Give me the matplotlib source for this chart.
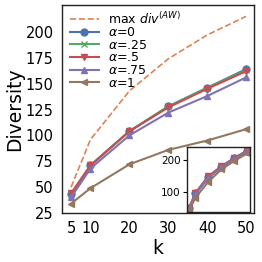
import numpy as np
import matplotlib
matplotlib.use('Agg')
import matplotlib.pyplot as plt

k = [5, 10, 20, 30, 40, 50]

max_div = [50, 96, 143, 174, 197, 215]
div_a0 = [43, 71, 104, 128, 146, 164]
div_a25 = [43, 71, 104, 128, 146, 163]
div_a5 = [44, 71, 104, 127, 145, 162]
div_a75 = [40, 68, 100, 122, 138, 156]
div_a1 = [34, 49, 72, 86, 95, 106]

# inset (second dataset)
ins_a0 = [48, 95, 147, 178, 205, 228]
ins_a25 = [48, 95, 147, 178, 205, 228]
ins_a5 = [50, 97, 149, 180, 206, 229]
ins_a75 = [46, 93, 144, 176, 203, 226]
ins_a1 = [40, 82, 132, 170, 197, 220]

labels = [r'$\alpha$=0', r'$\alpha$=.25', r'$\alpha$=.5', r'$\alpha$=.75', r'$\alpha$=1']
colors = ['#4C72B0', '#55A868', '#C44E52', '#8172B3', '#937860']
markers = ['o', 'x', 'v', '^', '<']

fig = plt.figure(figsize=(2.62, 2.62), dpi=100)
ax = fig.add_axes([0.237, 0.187, 0.732, 0.794])

ax.plot(k, max_div, '--', color='#DD8452', lw=1.2, label=r'max $div^{(AW)}$')
for ys, lab, c, m in zip([div_a0, div_a25, div_a5, div_a75, div_a1], labels, colors, markers):
    ax.plot(k, ys, color=c, marker=m, ms=5, lw=1.5, label=lab)

ax.set_xlim(2.7, 52)
ax.set_ylim(25, 226)
ax.set_xticks([5, 10, 20, 30, 40, 50])
ax.set_yticks([25, 50, 75, 100, 125, 150, 175, 200])
ax.tick_params(labelsize=10.5, length=0, pad=6)
ax.set_xlabel('k', fontsize=13.5, labelpad=2)
ax.set_ylabel('Diversity', fontsize=13.5, labelpad=1)
for s in ax.spines.values():
    s.set_color('#222222')
    s.set_linewidth(1.0)

ax.legend(loc='upper left', fontsize=9, frameon=False, labelspacing=-0.03,
          handlelength=2.3, borderaxespad=0.0, handletextpad=0.75,
          bbox_to_anchor=(0.015, 0.997))

ins = fig.add_axes([0.714, 0.191, 0.240, 0.248])
for ys, c, m in zip([ins_a0, ins_a25, ins_a5, ins_a75, ins_a1], colors, markers):
    ins.plot(k, ys, color=c, marker=m, ms=5, lw=1.5)
ins.set_xlim(3.5, 52)
ins.set_ylim(37, 240)
ins.set_xticks([])
ins.set_yticks([100, 200])
ins.tick_params(labelsize=7.5, length=3, width=0.8, pad=1.5)
for s in ins.spines.values():
    s.set_color('#222222')
    s.set_linewidth(1.0)

plt.savefig('out.png', dpi=100)
